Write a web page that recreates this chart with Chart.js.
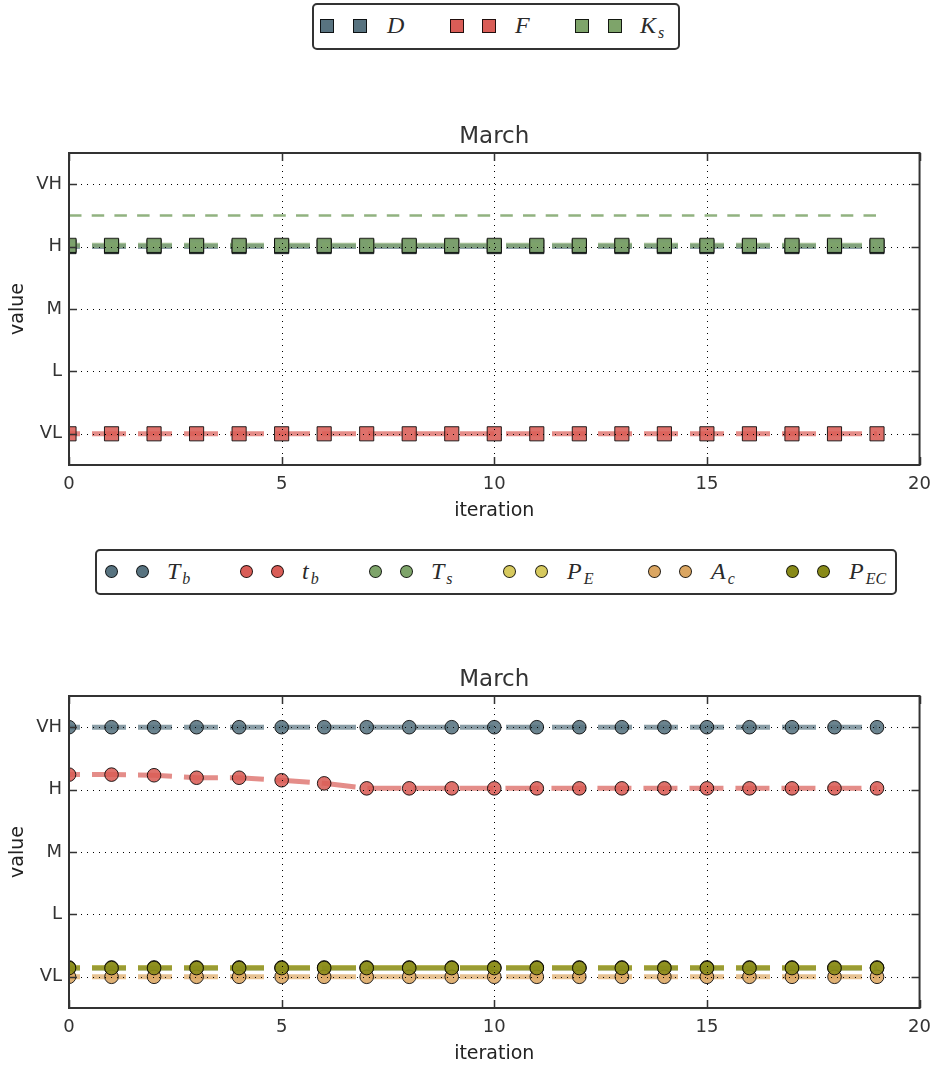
<!DOCTYPE html>
<html>
<head>
<meta charset="utf-8">
<title>March</title>
<script src="https://cdn.jsdelivr.net/npm/chart.js@4.4.1/dist/chart.umd.min.js"></script>
<style>
  html, body { margin: 0; padding: 0; background: #fff; }
  #wrap { position: relative; width: 940px; height: 1065px; overflow: hidden; background: #fff; }
  #wrap canvas { position: absolute; left: 0; }
  .legend-box { position: absolute; border: 2px solid #333; border-radius: 5px; background: #fff; box-sizing: border-box; z-index: 2; }
  .mk { position: absolute; box-sizing: border-box; border: 1px solid rgba(0,0,0,0.85); z-index: 3; }
  .lbl { position: absolute; z-index: 3; white-space: nowrap; color: #2a2a2a;
         font-family: "Liberation Serif", "DejaVu Serif", serif; font-style: italic;
         font-size: 24px; line-height: 24px; }
  .lbl sub { font-size: 16px; line-height: 16px; vertical-align: baseline; position: relative; top: 5px; margin-left: 2px; }
</style>
</head>
<body>
<div id="wrap">
  <canvas id="upper" width="940" height="530" style="top:0px"></canvas>
  <canvas id="lower" width="940" height="525" style="top:540px"></canvas>
</div>
<script>
// iterations and qualitative levels
const iterations = [0, 1, 2, 3, 4, 5, 6, 7, 8, 9, 10, 11, 12, 13, 14, 15, 16, 17, 18, 19];
const levelValues = [0, 1, 2, 3, 4];
const levelLabels = ['VL', 'L', 'M', 'H', 'VH'];
const xTickValues = [0, 5, 10, 15, 20];
const panelTitle = 'March';

// upper panel series
const dValues  = [3, 3, 3, 3, 3, 3, 3, 3, 3, 3, 3, 3, 3, 3, 3, 3, 3, 3, 3, 3];
const fValues  = [0, 0, 0, 0, 0, 0, 0, 0, 0, 0, 0, 0, 0, 0, 0, 0, 0, 0, 0, 0];
const ksValues = [3.02, 3.02, 3.02, 3.02, 3.02, 3.02, 3.02, 3.02, 3.02, 3.02, 3.02, 3.02, 3.02, 3.02, 3.02, 3.02, 3.02, 3.02, 3.02, 3.02];
const ksTarget = [3.5, 3.5, 3.5, 3.5, 3.5, 3.5, 3.5, 3.5, 3.5, 3.5, 3.5, 3.5, 3.5, 3.5, 3.5, 3.5, 3.5, 3.5, 3.5, 3.5];

// lower panel series
const bigTbValues   = [4, 4, 4, 4, 4, 4, 4, 4, 4, 4, 4, 4, 4, 4, 4, 4, 4, 4, 4, 4];
const smallTbValues = [3.24, 3.24, 3.23, 3.19, 3.19, 3.15, 3.10, 3.02, 3.02, 3.02, 3.02, 3.02, 3.02, 3.02, 3.02, 3.02, 3.02, 3.02, 3.02, 3.02];
const tsValues  = [0.14, 0.14, 0.14, 0.14, 0.14, 0.14, 0.14, 0.14, 0.14, 0.14, 0.14, 0.14, 0.14, 0.14, 0.14, 0.14, 0.14, 0.14, 0.14, 0.14];
const peValues  = [0.15, 0.15, 0.15, 0.15, 0.15, 0.15, 0.15, 0.15, 0.15, 0.15, 0.15, 0.15, 0.15, 0.15, 0.15, 0.15, 0.15, 0.15, 0.15, 0.15];
const acValues  = [0, 0, 0, 0, 0, 0, 0, 0, 0, 0, 0, 0, 0, 0, 0, 0, 0, 0, 0, 0];
const pecValues = [0.14, 0.14, 0.14, 0.14, 0.14, 0.14, 0.14, 0.14, 0.14, 0.14, 0.14, 0.14, 0.14, 0.14, 0.14, 0.14, 0.14, 0.14, 0.14, 0.14];

// palette
const C = {
  slate:  [88, 115, 128],
  red:    [217, 93, 87],
  green:  [126, 164, 106],
  yellow: [214, 201, 94],
  tan:    [219, 166, 98],
  olive:  [136, 138, 25]
};
const rgba = (c, a) => `rgba(${c[0]},${c[1]},${c[2]},${a})`;

const upperSeries = [
  { name: ['D', ''],  values: dValues,  color: C.slate },
  { name: ['F', ''],  values: fValues,  color: C.red },
  { name: ['K', 's'], values: ksValues, color: C.green }
];
const lowerSeries = [
  { name: ['T', 'b'],  values: bigTbValues,   color: C.slate },
  { name: ['t', 'b'],  values: smallTbValues, color: C.red },
  { name: ['T', 's'],  values: tsValues,      color: C.green },
  { name: ['P', 'E'],  values: peValues,      color: C.yellow },
  { name: ['A', 'c'],  values: acValues,      color: C.tan },
  { name: ['P', 'EC'], values: pecValues,     color: C.olive }
];

const toPoints = vals => iterations.map((it, i) => ({ x: it, y: vals[i] }));

function seriesDataset(s, i, total, pointStyle, radius) {
  return {
    label: s.name.join('_'),
    data: toPoints(s.values),
    order: total - i + 1,
    borderColor: rgba(s.color, 0.7),
    borderWidth: 5,
    borderDash: [34, 12],
    borderDashOffset: 23,
    fill: false,
    tension: 0,
    clip: 0,
    pointStyle: pointStyle,
    pointRadius: radius,
    pointHoverRadius: radius,
    pointBackgroundColor: rgba(s.color, 0.88),
    pointBorderColor: 'rgba(0,0,0,0.85)',
    pointBorderWidth: 1
  };
}

// dotted grid, inward tick marks, axes frame and panel title, drawn over the data
const frameAndGrid = {
  id: 'frameAndGrid',
  afterDatasetsDraw(chart) {
    const { ctx, chartArea: a, scales: { x, y } } = chart;
    ctx.save();
    ctx.strokeStyle = '#000';
    ctx.lineWidth = 1;
    ctx.setLineDash([1, 5]);
    levelValues.forEach(v => {
      const py = Math.round(y.getPixelForValue(v)) + 0.5;
      ctx.beginPath(); ctx.moveTo(a.left, py); ctx.lineTo(a.right, py); ctx.stroke();
    });
    xTickValues.forEach(v => {
      if (v === x.min || v === x.max) return;
      const px = Math.round(x.getPixelForValue(v)) + 0.5;
      ctx.beginPath(); ctx.moveTo(px, a.top); ctx.lineTo(px, a.bottom); ctx.stroke();
    });
    ctx.setLineDash([]);
    ctx.strokeStyle = '#333';
    ctx.lineWidth = 1.5;
    const tl = 8;
    levelValues.forEach(v => {
      const py = Math.round(y.getPixelForValue(v)) + 0.5;
      ctx.beginPath();
      ctx.moveTo(a.left, py); ctx.lineTo(a.left + tl, py);
      ctx.moveTo(a.right, py); ctx.lineTo(a.right - tl, py);
      ctx.stroke();
    });
    xTickValues.forEach(v => {
      const px = Math.round(x.getPixelForValue(v)) + 0.5;
      ctx.beginPath();
      ctx.moveTo(px, a.bottom); ctx.lineTo(px, a.bottom - tl);
      ctx.moveTo(px, a.top); ctx.lineTo(px, a.top + tl);
      ctx.stroke();
    });
    ctx.lineWidth = 2;
    ctx.strokeRect(a.left, a.top, a.right - a.left, a.bottom - a.top);

    // title centred over the plotting area
    ctx.fillStyle = '#333';
    ctx.font = 'normal 23px "DejaVu Sans"';
    ctx.textAlign = 'center';
    ctx.textBaseline = 'middle';
    ctx.fillText(panelTitle, (a.left + a.right) / 2, a.top - 15.5);
    ctx.restore();
  }
};

function makeChart(canvasId, datasets, geo) {
  const tickFont = { family: 'DejaVu Sans', size: 18 };
  const labelFont = { family: 'DejaVu Sans', size: 19 };
  return new Chart(document.getElementById(canvasId), {
    type: 'line',
    data: { datasets },
    plugins: [frameAndGrid],
    options: {
      responsive: false,
      devicePixelRatio: 1,
      animation: false,
      events: [],
      layout: { padding: { left: 0, right: 19, top: geo.plotTop, bottom: 0 } },
      plugins: {
        legend: { display: false },
        tooltip: { enabled: false },
        title: { display: false }
      },
      scales: {
        x: {
          type: 'linear', min: 0, max: 20,
          afterBuildTicks: s => { s.ticks = xTickValues.map(v => ({ value: v })); },
          afterFit: s => { s.height = geo.xHeight; },
          grid: { display: false, drawTicks: false },
          border: { display: false },
          ticks: { padding: 9, color: '#333', font: tickFont, autoSkip: false, maxRotation: 0 },
          title: { display: true, text: 'iteration', color: '#222', font: labelFont,
                   padding: { top: 0, bottom: geo.xTitlePad } }
        },
        y: {
          type: 'linear', min: -0.5, max: 4.5,
          afterBuildTicks: s => { s.ticks = levelValues.map(v => ({ value: v })); },
          afterFit: s => { s.width = 69; },
          grid: { display: false, drawTicks: false },
          border: { display: false },
          ticks: { padding: 7, color: '#333', font: tickFont, autoSkip: false,
                   callback: (v, i) => levelLabels[i] },
          title: { display: true, text: 'value', color: '#222', font: labelFont,
                   padding: { top: 7, bottom: 0 } }
        }
      }
    }
  });
}

// upper panel
const upperSets = upperSeries.map((s, i) => seriesDataset(s, i, upperSeries.length, 'rect', 10));
upperSets.push({
  label: 'K_s target',
  data: toPoints(ksTarget),
  order: 10,
  borderColor: rgba(C.green, 0.85),
  borderWidth: 2.5,
  borderDash: [12.5, 10.2],
  pointRadius: 0,
  fill: false,
  clip: 0
});
makeChart('upper', upperSets, { plotTop: 153, xHeight: 65, xTitlePad: 8 });

// lower panel
const lowerSets = lowerSeries.map((s, i) => seriesDataset(s, i, lowerSeries.length, 'circle', 6.8));
makeChart('lower', lowerSets, { plotTop: 156, xHeight: 57, xTitlePad: 0 });

// legends (marker-only handles with math-style labels)
function buildLegend(series, box, items, shape, size, textTop) {
  const wrap = document.getElementById('wrap');
  const b = document.createElement('div');
  b.className = 'legend-box';
  Object.assign(b.style, { left: box.x + 'px', top: box.y + 'px', width: box.w + 'px', height: box.h + 'px' });
  wrap.appendChild(b);
  series.forEach((s, i) => {
    const it = items[i];
    it.marks.forEach(cx => {
      const m = document.createElement('div');
      m.className = 'mk';
      Object.assign(m.style, {
        left: (cx - size / 2) + 'px', top: (box.cy - size / 2) + 'px',
        width: size + 'px', height: size + 'px',
        background: rgba(s.color, 1),
        borderRadius: shape === 'circle' ? '50%' : '0'
      });
      wrap.appendChild(m);
    });
    const l = document.createElement('div');
    l.className = 'lbl';
    l.style.left = it.label + 'px';
    l.style.top = textTop + 'px';
    l.appendChild(document.createTextNode(s.name[0]));
    if (s.name[1]) {
      const sub = document.createElement('sub');
      sub.textContent = s.name[1];
      l.appendChild(sub);
    }
    wrap.appendChild(l);
  });
}

buildLegend(upperSeries, { x: 312, y: 3, w: 368, h: 47, cy: 26 }, [
  { marks: [327, 360], label: 387 },
  { marks: [457, 489], label: 515 },
  { marks: [582, 615], label: 640 }
], 'rect', 14, 13);

buildLegend(lowerSeries, { x: 95, y: 549, w: 802, h: 46, cy: 571 }, [
  { marks: [111, 142], label: 167 },
  { marks: [246, 277], label: 302 },
  { marks: [375, 406], label: 431 },
  { marks: [509, 541], label: 567 },
  { marks: [654, 685], label: 711 },
  { marks: [792, 823], label: 849 }
], 'circle', 13, 559);
</script>
</body>
</html>
